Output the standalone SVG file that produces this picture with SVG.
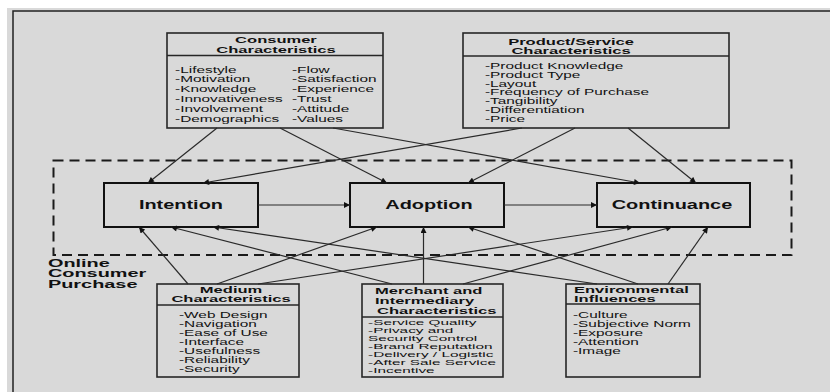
<svg xmlns="http://www.w3.org/2000/svg" width="830" height="392" viewBox="0 0 830 392">
<defs>
<style>
.bg{fill:#d9d9d9}
.box{fill:#d9d9d9;stroke:#262626;stroke-width:1.6}
.main{fill:#d9d9d9;stroke:#111;stroke-width:2}
.div{stroke:#262626;stroke-width:1.4}
.t{font-family:"Liberation Sans",Arial,sans-serif;fill:#111}
.ti{font-size:9.5px;font-weight:bold}
.it{font-size:8.6px}
.it2{font-size:8px}
.ml{font-size:12.3px;font-weight:bold}
.ol{font-size:10.2px;font-weight:bold}
.c{stroke:#2a2a2a;stroke-width:1.2;fill:none;marker-end:url(#ah)}
</style>
<marker id="ah" viewBox="0 0 10 10" refX="10" refY="5" markerWidth="7" markerHeight="6" markerUnits="userSpaceOnUse" orient="auto">
<path d="M0,0 L10,5 L0,10 z" fill="#111"/>
</marker>
</defs>
<rect x="0" y="0" width="830" height="392" fill="#ffffff"/>
<rect x="7" y="8" width="823" height="384" class="bg"/>
<path d="M13,392 V11 H830" fill="none" stroke="#222" stroke-width="1.5"/>

<g id="online-consumer-purchase">
<rect x="53.5" y="160.5" width="738" height="94.5" fill="none" stroke="#1a1a1a" stroke-width="2" stroke-dasharray="10,6"/>
<g transform="scale(1.95,1)" class="t ol">
<text x="24.6" y="267">Online</text>
<text x="24.6" y="277.5">Consumer</text>
<text x="24.6" y="288">Purchase</text>
</g>
</g>

<g id="consumer-characteristics">
<rect x="167" y="33" width="216" height="95" class="box"/>
<line x1="167" y1="55.5" x2="383" y2="55.5" class="div"/>
<g transform="scale(1.74,1)" class="t ti">
<text x="158.6" y="43" text-anchor="middle">Consumer</text>
<text x="158.6" y="53.3" text-anchor="middle">Characteristics</text>
</g>
<g transform="scale(1.79,1)" class="t it">
<text x="97.8" y="72.7">-Lifestyle</text>
<text x="97.8" y="82.5">-Motivation</text>
<text x="97.8" y="92.3">-Knowledge</text>
<text x="97.8" y="102.1">-Innovativeness</text>
<text x="97.8" y="111.9">-Involvement</text>
<text x="97.8" y="121.7">-Demographics</text>
<text x="163.1" y="72.7">-Flow</text>
<text x="163.1" y="82.5">-Satisfaction</text>
<text x="163.1" y="92.3">-Experience</text>
<text x="163.1" y="102.1">-Trust</text>
<text x="163.1" y="111.9">-Attitude</text>
<text x="163.1" y="121.7">-Values</text>
</g>
</g>

<g id="product-service-characteristics">
<rect x="463" y="33" width="266" height="95" class="box"/>
<line x1="463" y1="56" x2="729" y2="56" class="div"/>
<g transform="scale(1.74,1)" class="t ti">
<text x="328.2" y="45" text-anchor="middle">Product/Service</text>
<text x="328.2" y="54" text-anchor="middle">Characteristics</text>
</g>
<g transform="scale(1.79,1)" class="t it">
<text x="270.9" y="69">-Product Knowledge</text>
<text x="270.9" y="77.8">-Product Type</text>
<text x="270.9" y="86.6">-Layout</text>
<text x="270.9" y="95.4">-Frequency of Purchase</text>
<text x="270.9" y="104.2">-Tangibility</text>
<text x="270.9" y="113">-Differentiation</text>
<text x="270.9" y="121.8">-Price</text>
</g>
</g>

<g id="intention">
<rect x="104" y="183" width="154" height="44" class="main"/>
<g transform="scale(1.62,1)" class="t ml"><text x="111.7" y="209.5" text-anchor="middle">Intention</text></g>
</g>
<g id="adoption">
<rect x="350" y="183" width="154" height="44" class="main"/>
<g transform="scale(1.62,1)" class="t ml"><text x="264.8" y="209.5" text-anchor="middle">Adoption</text></g>
</g>
<g id="continuance">
<rect x="597" y="183" width="153" height="44" class="main"/>
<g transform="scale(1.62,1)" class="t ml"><text x="414.8" y="209.5" text-anchor="middle">Continuance</text></g>
</g>

<g id="medium-characteristics">
<rect x="157" y="284" width="142" height="93" class="box"/>
<line x1="157" y1="305" x2="299" y2="305" class="div"/>
<g transform="scale(1.74,1)" class="t ti">
<text x="132.8" y="293" text-anchor="middle">Medium</text>
<text x="132.8" y="302.3" text-anchor="middle">Characteristics</text>
</g>
<g transform="scale(1.79,1)" class="t it">
<text x="100" y="318.3">-Web Design</text>
<text x="100" y="327.2">-Navigation</text>
<text x="100" y="336.1">-Ease of Use</text>
<text x="100" y="345">-Interface</text>
<text x="100" y="353.9">-Usefulness</text>
<text x="100" y="362.8">-Reliability</text>
<text x="100" y="371.7">-Security</text>
</g>
</g>

<g id="merchant-intermediary-characteristics">
<rect x="362" y="284" width="141" height="93" class="box"/>
<line x1="362" y1="317" x2="503" y2="317" class="div"/>
<g transform="scale(1.74,1)" class="t ti">
<text x="215.5" y="294">Merchant and</text>
<text x="215.5" y="304">Intermediary</text>
<text x="216.7" y="314">Characteristics</text>
</g>
<g transform="scale(1.92,1)" class="t it2">
<text x="191.7" y="325">-Service Quality</text>
<text x="191.7" y="333">-Privacy and</text>
<text x="191.7" y="341">Security Control</text>
<text x="191.7" y="349">-Brand Reputation</text>
<text x="191.7" y="357">-Delivery / Logistic</text>
<text x="191.7" y="365">-After Sale Service</text>
<text x="191.7" y="373">-Incentive</text>
</g>
</g>

<g id="environmental-influences">
<rect x="566" y="284" width="134" height="93" class="box"/>
<line x1="566" y1="304" x2="700" y2="304" class="div"/>
<g transform="scale(1.74,1)" class="t ti">
<text x="329.9" y="293">Environmental</text>
<text x="329.9" y="302.3">Influences</text>
</g>
<g transform="scale(1.79,1)" class="t it">
<text x="320.1" y="318.3">-Culture</text>
<text x="320.1" y="327.2">-Subjective Norm</text>
<text x="320.1" y="336.1">-Exposure</text>
<text x="320.1" y="345">-Attention</text>
<text x="320.1" y="353.9">-Image</text>
</g>
</g>

<g id="connectors">
<line x1="217" y1="128" x2="148" y2="183" class="c"/>
<line x1="522" y1="128" x2="203" y2="183" class="c"/>
<line x1="280" y1="128" x2="387" y2="183" class="c"/>
<line x1="575" y1="128" x2="468" y2="183" class="c"/>
<line x1="333" y1="128" x2="640" y2="183" class="c"/>
<line x1="628" y1="128" x2="696" y2="183" class="c"/>
<line x1="188" y1="284" x2="139" y2="227" class="c"/>
<line x1="392" y1="284" x2="171" y2="227" class="c"/>
<line x1="597" y1="284" x2="213" y2="227" class="c"/>
<line x1="217" y1="284" x2="377" y2="227" class="c"/>
<line x1="423.5" y1="284" x2="423.5" y2="227" class="c"/>
<line x1="638" y1="284" x2="468" y2="227" class="c"/>
<line x1="258" y1="284" x2="633" y2="227" class="c"/>
<line x1="463" y1="284" x2="672" y2="227" class="c"/>
<line x1="668" y1="284" x2="708" y2="227" class="c"/>
<line x1="258" y1="205" x2="350" y2="205" class="c"/>
<line x1="504" y1="205" x2="597" y2="205" class="c"/>
</g>
</svg>
